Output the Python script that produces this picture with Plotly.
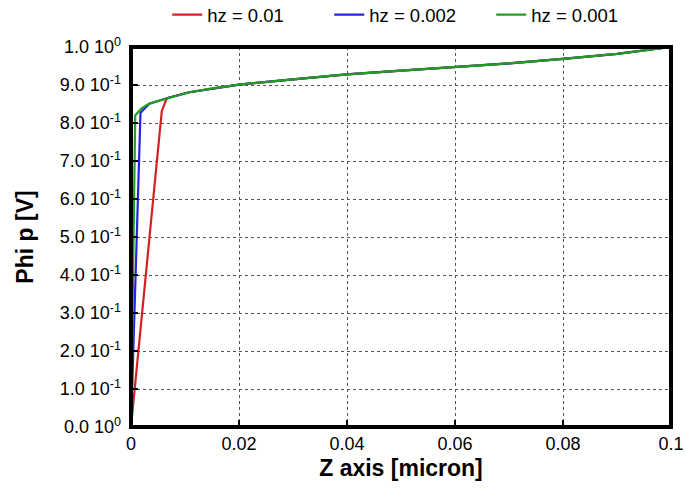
import plotly.graph_objects as go

# Shared upper part of the potential profile (z in micron, phi in V)
z_tail = [0.0034, 0.005, 0.0071, 0.0108, 0.015, 0.02, 0.03, 0.04, 0.05, 0.06, 0.07, 0.08, 0.09, 0.1]
phi_tail = [0.851, 0.858, 0.867, 0.881, 0.891, 0.901, 0.915, 0.928, 0.938, 0.947, 0.957, 0.969, 0.982, 1.0]

# Near-boundary points for each mesh step
z_hz01 = [0.0, 0.0057, 0.0066]
phi_hz01 = [0.0, 0.831, 0.864]
z_hz002 = [0.0, 0.00176]
phi_hz002 = [0.0, 0.827]
z_hz001 = [0.0, 0.00078, 0.0019]
phi_hz001 = [0.0, 0.82, 0.838]

series_names = ["hz = 0.01", "hz = 0.002", "hz = 0.001"]
series_colors = ["#d42020", "#2424e0", "#1f9e1f"]

y_tickvals = [0.0, 0.1, 0.2, 0.3, 0.4, 0.5, 0.6, 0.7, 0.8, 0.9, 1.0]
y_ticktext = ["0.0 10<sup>0</sup>", "1.0 10<sup>-1</sup>", "2.0 10<sup>-1</sup>", "3.0 10<sup>-1</sup>",
              "4.0 10<sup>-1</sup>", "5.0 10<sup>-1</sup>", "6.0 10<sup>-1</sup>", "7.0 10<sup>-1</sup>",
              "8.0 10<sup>-1</sup>", "9.0 10<sup>-1</sup>", "1.0 10<sup>0</sup>"]
x_tickvals = [0, 0.02, 0.04, 0.06, 0.08, 0.1]
x_ticktext = ["0", "0.02", "0.04", "0.06", "0.08", "0.1"]

series = [
    (z_hz01 + z_tail[2:], phi_hz01 + phi_tail[2:]),
    (z_hz002 + z_tail, phi_hz002 + phi_tail),
    (z_hz001 + z_tail, phi_hz001 + phi_tail),
]

fig = go.Figure()
for (zs, ps), name, col in zip(series, series_names, series_colors):
    fig.add_trace(go.Scatter(x=zs, y=ps, mode="lines", name=name,
                             line=dict(color=col, width=2.2)))

font_family = "Liberation Sans, Arial, sans-serif"

axis_common = dict(
    showline=False, zeroline=False, showgrid=True, automargin=False,
    gridcolor="#555", griddash="dot", gridwidth=1,
    ticks="inside", ticklen=7, tickwidth=2, tickcolor="black",
    tickfont=dict(family=font_family, size=18, color="black"),
)

fig.update_layout(
    width=686, height=490,
    margin=dict(l=131, r=15, t=47, b=63),
    paper_bgcolor="white", plot_bgcolor="white",
    font=dict(family=font_family, color="black"),
    xaxis=dict(range=[0, 0.1], tickvals=x_tickvals, ticktext=x_ticktext,
               ticklabelstandoff=4,
               title=dict(text="<b>Z axis [micron]</b>", font=dict(size=23), standoff=6),
               **axis_common),
    yaxis=dict(range=[0, 1.0], tickvals=y_tickvals, ticktext=y_ticktext,
               ticklabelstandoff=9,
               title=dict(text="<b>Phi p [V]</b>", font=dict(size=23), standoff=19),
               **axis_common),
    legend=dict(orientation="h", xref="container", yref="container",
                x=0.598, xanchor="center", y=0.969, yanchor="middle",
                font=dict(size=18.5), entrywidth=117, entrywidthmode="pixels",
                bgcolor="rgba(0,0,0,0)"),
    shapes=[dict(type="rect", xref="paper", yref="paper", x0=0, y0=0, x1=1, y1=1,
                 line=dict(color="black", width=4), layer="above")],
)

fig.write_html("out.html")
